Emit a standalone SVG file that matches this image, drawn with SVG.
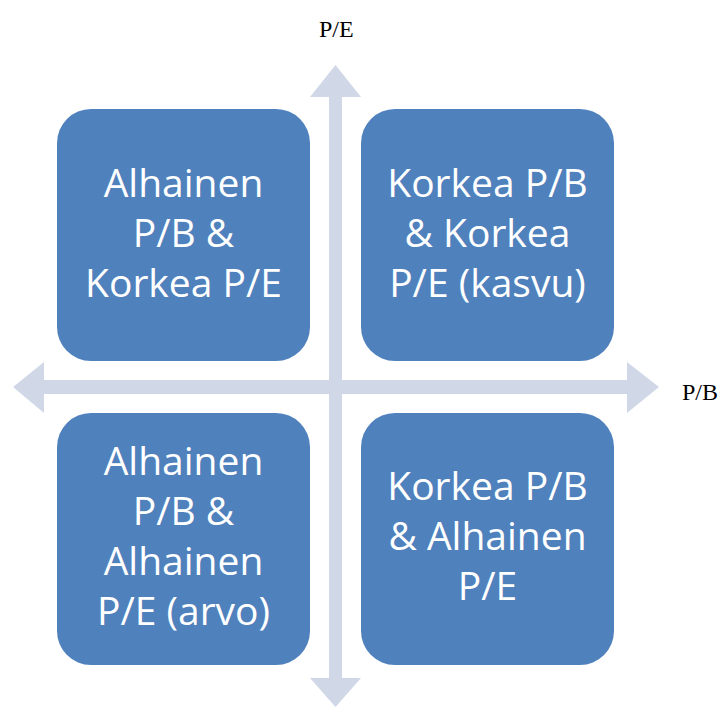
<svg xmlns="http://www.w3.org/2000/svg" width="721" height="707" viewBox="0 0 721 707">
<style>
.box{fill:#4F81BD;}
.bt{font-family:"Open Sans","Liberation Sans",sans-serif;font-size:39px;fill:#FFFFFF;text-anchor:middle;}
.ax{font-family:"Liberation Serif","Times New Roman",serif;font-size:24px;fill:#000000;}
.arr{fill:#D0D8E8;}
</style>
<rect width="721" height="707" fill="#FFFFFF"/>
<g id="connectors">
<polygon class="arr" points="335.5,65 361,97 342,97 342,678 361,678 335.5,707 310,678 329,678 329,97 310,97"/>
<polygon class="arr" points="13,387 44,362 44,380 627,380 627,362 659,387 627,413 627,394 44,394 44,413"/>
</g>
<g id="node-tl">
<rect class="box" x="57" y="109" width="253" height="252" rx="34" ry="34"/>
<text class="bt" x="183.5" y="197">Alhainen</text>
<text class="bt" x="183.5" y="247">P/B &amp;</text>
<text class="bt" x="183.5" y="297">Korkea P/E</text>
</g>
<g id="node-tr">
<rect class="box" x="361" y="109" width="253" height="252" rx="34" ry="34"/>
<text class="bt" x="487.5" y="197">Korkea P/B</text>
<text class="bt" x="487.5" y="247">&amp; Korkea</text>
<text class="bt" x="487.5" y="297">P/E (kasvu)</text>
</g>
<g id="node-bl">
<rect class="box" x="57" y="413" width="253" height="252" rx="34" ry="34"/>
<text class="bt" x="183.5" y="475">Alhainen</text>
<text class="bt" x="183.5" y="525">P/B &amp;</text>
<text class="bt" x="183.5" y="575">Alhainen</text>
<text class="bt" x="183.5" y="625">P/E (arvo)</text>
</g>
<g id="node-br">
<rect class="box" x="361" y="413" width="253" height="252" rx="34" ry="34"/>
<text class="bt" x="487.5" y="500">Korkea P/B</text>
<text class="bt" x="487.5" y="550">&amp; Alhainen</text>
<text class="bt" x="487.5" y="600">P/E</text>
</g>
<g id="labels">
<text class="ax" x="319" y="37">P/E</text>
<text class="ax" x="682" y="400">P/B</text>
</g>
</svg>
